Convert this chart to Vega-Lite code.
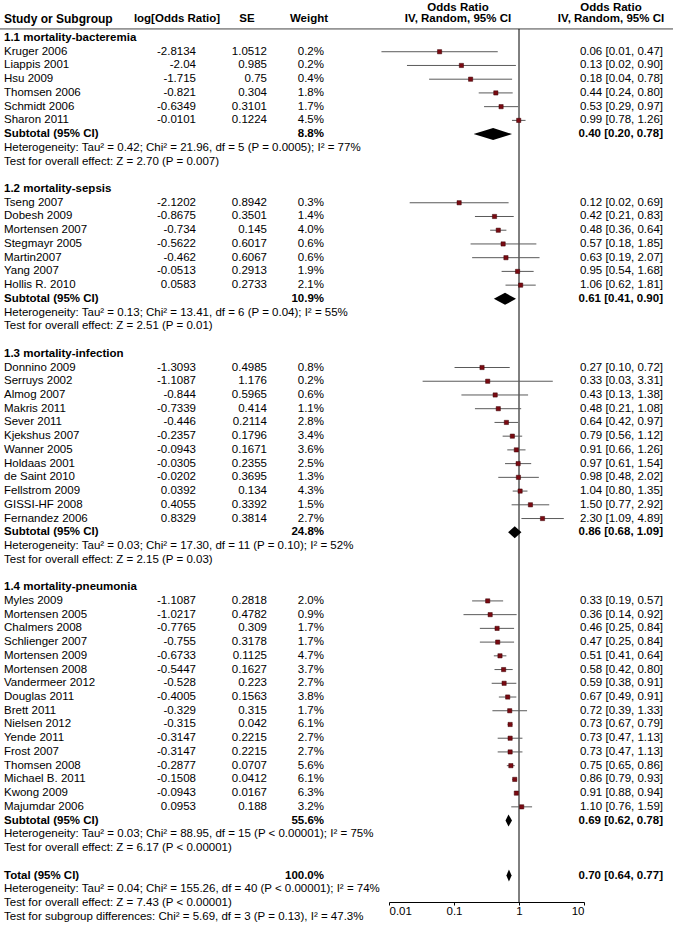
{
  "$schema": "https://vega.github.io/schema/vega-lite/v6.json",
  "width": 673,
  "height": 902,
  "padding": {"left": 0, "top": 0, "right": 0, "bottom": 27},
  "autosize": {"type": "none"},
  "background": "white",
  "config": {
    "view": {"stroke": null},
    "text": {"font": "Liberation Sans", "fontSize": 11.5, "color": "black"}
  },
  "datasets": {
    "refline": [{"ref": 1}],
    "rows": [
      {"row": -2.2, "type": "colhead", "label": "", "logor": "", "se": "", "weight": "", "fp": "Odds Ratio", "ci": "Odds Ratio"},
      {"row": -1.35, "type": "colhead", "label": "Study or Subgroup", "logor": "log[Odds Ratio]", "se": "SE", "weight": "Weight", "fp": "IV, Random, 95% CI", "ci": "IV, Random, 95% CI"},
      {"row": 0, "type": "header", "label": "1.1 mortality-bacteremia"},
      {"row": 1, "type": "study", "label": "Kruger 2006", "logor": "-2.8134", "se": "1.0512", "weight": "0.2%", "ci": "0.06 [0.01, 0.47]", "est": 0.060, "lo": 0.00765, "hi": 0.471},
      {"row": 2, "type": "study", "label": "Liappis 2001", "logor": "-2.04", "se": "0.985", "weight": "0.2%", "ci": "0.13 [0.02, 0.90]", "est": 0.130, "lo": 0.0189, "hi": 0.896},
      {"row": 3, "type": "study", "label": "Hsu 2009", "logor": "-1.715", "se": "0.75", "weight": "0.4%", "ci": "0.18 [0.04, 0.78]", "est": 0.180, "lo": 0.0414, "hi": 0.783},
      {"row": 4, "type": "study", "label": "Thomsen 2006", "logor": "-0.821", "se": "0.304", "weight": "1.8%", "ci": "0.44 [0.24, 0.80]", "est": 0.44, "lo": 0.24, "hi": 0.80},
      {"row": 5, "type": "study", "label": "Schmidt 2006", "logor": "-0.6349", "se": "0.3101", "weight": "1.7%", "ci": "0.53 [0.29, 0.97]", "est": 0.53, "lo": 0.29, "hi": 0.97},
      {"row": 6, "type": "study", "label": "Sharon 2011", "logor": "-0.0101", "se": "0.1224", "weight": "4.5%", "ci": "0.99 [0.78, 1.26]", "est": 0.99, "lo": 0.78, "hi": 1.26},
      {"row": 7, "type": "subtotal", "label": "Subtotal (95% CI)", "weight": "8.8%", "ci": "0.40 [0.20, 0.78]", "est": 0.40, "lo": 0.20, "hi": 0.78},
      {"row": 8, "type": "note", "label": "Heterogeneity: Tau² = 0.42; Chi² = 21.96, df = 5 (P = 0.0005); I² = 77%"},
      {"row": 9, "type": "note", "label": "Test for overall effect: Z = 2.70 (P = 0.007)"},
      {"row": 11, "type": "header", "label": "1.2 mortality-sepsis"},
      {"row": 12, "type": "study", "label": "Tseng 2007", "logor": "-2.1202", "se": "0.8942", "weight": "0.3%", "ci": "0.12 [0.02, 0.69]", "est": 0.120, "lo": 0.0208, "hi": 0.692},
      {"row": 13, "type": "study", "label": "Dobesh 2009", "logor": "-0.8675", "se": "0.3501", "weight": "1.4%", "ci": "0.42 [0.21, 0.83]", "est": 0.42, "lo": 0.21, "hi": 0.83},
      {"row": 14, "type": "study", "label": "Mortensen 2007", "logor": "-0.734", "se": "0.145", "weight": "4.0%", "ci": "0.48 [0.36, 0.64]", "est": 0.48, "lo": 0.36, "hi": 0.64},
      {"row": 15, "type": "study", "label": "Stegmayr 2005", "logor": "-0.5622", "se": "0.6017", "weight": "0.6%", "ci": "0.57 [0.18, 1.85]", "est": 0.57, "lo": 0.18, "hi": 1.85},
      {"row": 16, "type": "study", "label": "Martin2007", "logor": "-0.462", "se": "0.6067", "weight": "0.6%", "ci": "0.63 [0.19, 2.07]", "est": 0.63, "lo": 0.19, "hi": 2.07},
      {"row": 17, "type": "study", "label": "Yang 2007", "logor": "-0.0513", "se": "0.2913", "weight": "1.9%", "ci": "0.95 [0.54, 1.68]", "est": 0.95, "lo": 0.54, "hi": 1.68},
      {"row": 18, "type": "study", "label": "Hollis R. 2010", "logor": "0.0583", "se": "0.2733", "weight": "2.1%", "ci": "1.06 [0.62, 1.81]", "est": 1.06, "lo": 0.62, "hi": 1.81},
      {"row": 19, "type": "subtotal", "label": "Subtotal (95% CI)", "weight": "10.9%", "ci": "0.61 [0.41, 0.90]", "est": 0.61, "lo": 0.41, "hi": 0.90},
      {"row": 20, "type": "note", "label": "Heterogeneity: Tau² = 0.13; Chi² = 13.41, df = 6 (P = 0.04); I² = 55%"},
      {"row": 21, "type": "note", "label": "Test for overall effect: Z = 2.51 (P = 0.01)"},
      {"row": 23, "type": "header", "label": "1.3 mortality-infection"},
      {"row": 24, "type": "study", "label": "Donnino 2009", "logor": "-1.3093", "se": "0.4985", "weight": "0.8%", "ci": "0.27 [0.10, 0.72]", "est": 0.27, "lo": 0.102, "hi": 0.72},
      {"row": 25, "type": "study", "label": "Serruys 2002", "logor": "-1.1087", "se": "1.176", "weight": "0.2%", "ci": "0.33 [0.03, 3.31]", "est": 0.33, "lo": 0.0329, "hi": 3.31},
      {"row": 26, "type": "study", "label": "Almog 2007", "logor": "-0.844", "se": "0.5965", "weight": "0.6%", "ci": "0.43 [0.13, 1.38]", "est": 0.43, "lo": 0.13, "hi": 1.38},
      {"row": 27, "type": "study", "label": "Makris 2011", "logor": "-0.7339", "se": "0.414", "weight": "1.1%", "ci": "0.48 [0.21, 1.08]", "est": 0.48, "lo": 0.21, "hi": 1.08},
      {"row": 28, "type": "study", "label": "Sever 2011", "logor": "-0.446", "se": "0.2114", "weight": "2.8%", "ci": "0.64 [0.42, 0.97]", "est": 0.64, "lo": 0.42, "hi": 0.97},
      {"row": 29, "type": "study", "label": "Kjekshus 2007", "logor": "-0.2357", "se": "0.1796", "weight": "3.4%", "ci": "0.79 [0.56, 1.12]", "est": 0.79, "lo": 0.56, "hi": 1.12},
      {"row": 30, "type": "study", "label": "Wanner 2005", "logor": "-0.0943", "se": "0.1671", "weight": "3.6%", "ci": "0.91 [0.66, 1.26]", "est": 0.91, "lo": 0.66, "hi": 1.26},
      {"row": 31, "type": "study", "label": "Holdaas 2001", "logor": "-0.0305", "se": "0.2355", "weight": "2.5%", "ci": "0.97 [0.61, 1.54]", "est": 0.97, "lo": 0.61, "hi": 1.54},
      {"row": 32, "type": "study", "label": "de Saint 2010", "logor": "-0.0202", "se": "0.3695", "weight": "1.3%", "ci": "0.98 [0.48, 2.02]", "est": 0.98, "lo": 0.48, "hi": 2.02},
      {"row": 33, "type": "study", "label": "Fellstrom 2009", "logor": "0.0392", "se": "0.134", "weight": "4.3%", "ci": "1.04 [0.80, 1.35]", "est": 1.04, "lo": 0.80, "hi": 1.35},
      {"row": 34, "type": "study", "label": "GISSI-HF 2008", "logor": "0.4055", "se": "0.3392", "weight": "1.5%", "ci": "1.50 [0.77, 2.92]", "est": 1.50, "lo": 0.77, "hi": 2.92},
      {"row": 35, "type": "study", "label": "Fernandez 2006", "logor": "0.8329", "se": "0.3814", "weight": "2.7%", "ci": "2.30 [1.09, 4.89]", "est": 2.30, "lo": 1.09, "hi": 4.89},
      {"row": 36, "type": "subtotal", "label": "Subtotal (95% CI)", "weight": "24.8%", "ci": "0.86 [0.68, 1.09]", "est": 0.86, "lo": 0.68, "hi": 1.09},
      {"row": 37, "type": "note", "label": "Heterogeneity: Tau² = 0.03; Chi² = 17.30, df = 11 (P = 0.10); I² = 52%"},
      {"row": 38, "type": "note", "label": "Test for overall effect: Z = 2.15 (P = 0.03)"},
      {"row": 40, "type": "header", "label": "1.4 mortality-pneumonia"},
      {"row": 41, "type": "study", "label": "Myles 2009", "logor": "-1.1087", "se": "0.2818", "weight": "2.0%", "ci": "0.33 [0.19, 0.57]", "est": 0.33, "lo": 0.19, "hi": 0.57},
      {"row": 42, "type": "study", "label": "Mortensen 2005", "logor": "-1.0217", "se": "0.4782", "weight": "0.9%", "ci": "0.36 [0.14, 0.92]", "est": 0.36, "lo": 0.14, "hi": 0.92},
      {"row": 43, "type": "study", "label": "Chalmers 2008", "logor": "-0.7765", "se": "0.309", "weight": "1.7%", "ci": "0.46 [0.25, 0.84]", "est": 0.46, "lo": 0.25, "hi": 0.84},
      {"row": 44, "type": "study", "label": "Schlienger 2007", "logor": "-0.755", "se": "0.3178", "weight": "1.7%", "ci": "0.47 [0.25, 0.84]", "est": 0.47, "lo": 0.25, "hi": 0.84},
      {"row": 45, "type": "study", "label": "Mortensen 2009", "logor": "-0.6733", "se": "0.1125", "weight": "4.7%", "ci": "0.51 [0.41, 0.64]", "est": 0.51, "lo": 0.41, "hi": 0.64},
      {"row": 46, "type": "study", "label": "Mortensen 2008", "logor": "-0.5447", "se": "0.1627", "weight": "3.7%", "ci": "0.58 [0.42, 0.80]", "est": 0.58, "lo": 0.42, "hi": 0.80},
      {"row": 47, "type": "study", "label": "Vandermeer 2012", "logor": "-0.528", "se": "0.223", "weight": "2.7%", "ci": "0.59 [0.38, 0.91]", "est": 0.59, "lo": 0.38, "hi": 0.91},
      {"row": 48, "type": "study", "label": "Douglas 2011", "logor": "-0.4005", "se": "0.1563", "weight": "3.8%", "ci": "0.67 [0.49, 0.91]", "est": 0.67, "lo": 0.49, "hi": 0.91},
      {"row": 49, "type": "study", "label": "Brett 2011", "logor": "-0.329", "se": "0.315", "weight": "1.7%", "ci": "0.72 [0.39, 1.33]", "est": 0.72, "lo": 0.39, "hi": 1.33},
      {"row": 50, "type": "study", "label": "Nielsen 2012", "logor": "-0.315", "se": "0.042", "weight": "6.1%", "ci": "0.73 [0.67, 0.79]", "est": 0.73, "lo": 0.67, "hi": 0.79},
      {"row": 51, "type": "study", "label": "Yende 2011", "logor": "-0.3147", "se": "0.2215", "weight": "2.7%", "ci": "0.73 [0.47, 1.13]", "est": 0.73, "lo": 0.47, "hi": 1.13},
      {"row": 52, "type": "study", "label": "Frost 2007", "logor": "-0.3147", "se": "0.2215", "weight": "2.7%", "ci": "0.73 [0.47, 1.13]", "est": 0.73, "lo": 0.47, "hi": 1.13},
      {"row": 53, "type": "study", "label": "Thomsen 2008", "logor": "-0.2877", "se": "0.0707", "weight": "5.6%", "ci": "0.75 [0.65, 0.86]", "est": 0.75, "lo": 0.65, "hi": 0.86},
      {"row": 54, "type": "study", "label": "Michael B. 2011", "logor": "-0.1508", "se": "0.0412", "weight": "6.1%", "ci": "0.86 [0.79, 0.93]", "est": 0.86, "lo": 0.79, "hi": 0.93},
      {"row": 55, "type": "study", "label": "Kwong 2009", "logor": "-0.0943", "se": "0.0167", "weight": "6.3%", "ci": "0.91 [0.88, 0.94]", "est": 0.91, "lo": 0.88, "hi": 0.94},
      {"row": 56, "type": "study", "label": "Majumdar 2006", "logor": "0.0953", "se": "0.188", "weight": "3.2%", "ci": "1.10 [0.76, 1.59]", "est": 1.10, "lo": 0.76, "hi": 1.59},
      {"row": 57, "type": "subtotal", "label": "Subtotal (95% CI)", "weight": "55.6%", "ci": "0.69 [0.62, 0.78]", "est": 0.69, "lo": 0.62, "hi": 0.78},
      {"row": 58, "type": "note", "label": "Heterogeneity: Tau² = 0.03; Chi² = 88.95, df = 15 (P < 0.00001); I² = 75%"},
      {"row": 59, "type": "note", "label": "Test for overall effect: Z = 6.17 (P < 0.00001)"},
      {"row": 61, "type": "total", "label": "Total (95% CI)", "weight": "100.0%", "ci": "0.70 [0.64, 0.77]", "est": 0.70, "lo": 0.64, "hi": 0.77},
      {"row": 62, "type": "note", "label": "Heterogeneity: Tau² = 0.04; Chi² = 155.26, df = 40 (P < 0.00001); I² = 74%"},
      {"row": 63, "type": "note", "label": "Test for overall effect: Z = 7.43 (P < 0.00001)"},
      {"row": 64, "type": "note", "label": "Test for subgroup differences: Chi² = 5.69, df = 3 (P = 0.13), I² = 47.3%"}
    ]
  },
  "data": {"name": "rows"},
  "layer": [
    {
      "data": {"name": "refline"},
      "mark": {"type": "rule", "color": "#444444", "strokeWidth": 1},
      "encoding": {
        "y": {"datum": -0.66, "type": "quantitative", "scale": {"domain": [-2.768, 62.93], "reverse": true, "nice": false, "zero": false}, "axis": null},
        "x": {"value": 0},
        "x2": {"value": 673}
      }
    },
    {
      "data": {"name": "refline"},
      "mark": {"type": "rule", "color": "black", "strokeWidth": 1},
      "encoding": {
        "x": {"field": "ref", "type": "quantitative", "scale": {"type": "log", "domain": [0.01, 10], "range": [389, 584], "nice": false}, "axis": {"title": null, "values": [0.01, 0.1, 1, 10], "format": "~g", "grid": false, "tickSize": 3, "labelPadding": 0, "domainColor": "black", "tickColor": "black", "labelColor": "black", "labelFontSize": 11.5, "labelFont": "Liberation Sans"}},
        "y": {"datum": -0.66, "type": "quantitative", "scale": {"domain": [-2.768, 62.93], "reverse": true, "nice": false, "zero": false}, "axis": null},
        "y2": {"datum": 62.93}
      }
    },
    {
      "transform": [{"filter": "datum.type == 'study'"}],
      "mark": {"type": "rule", "color": "#5a5a5a", "strokeWidth": 1},
      "encoding": {
        "x": {"field": "lo", "type": "quantitative", "scale": {"type": "log", "domain": [0.01, 10], "range": [389, 584], "nice": false}, "axis": {"title": null, "values": [0.01, 0.1, 1, 10], "format": "~g", "grid": false, "tickSize": 3, "labelPadding": 0, "domainColor": "black", "tickColor": "black", "labelColor": "black", "labelFontSize": 11.5, "labelFont": "Liberation Sans"}},
        "x2": {"field": "hi"},
        "y": {"field": "row", "type": "quantitative", "scale": {"domain": [-2.768, 62.93], "reverse": true, "nice": false, "zero": false}, "axis": null}
      }
    },
    {
      "transform": [{"filter": "datum.type == 'study'"}],
      "mark": {"type": "square", "size": 18, "filled": true, "color": "#7a0a12", "opacity": 1, "stroke": "#3a0005", "strokeWidth": 0.5},
      "encoding": {
        "x": {"field": "est", "type": "quantitative", "scale": {"type": "log", "domain": [0.01, 10], "range": [389, 584], "nice": false}, "axis": {"title": null, "values": [0.01, 0.1, 1, 10], "format": "~g", "grid": false, "tickSize": 3, "labelPadding": 0, "domainColor": "black", "tickColor": "black", "labelColor": "black", "labelFontSize": 11.5, "labelFont": "Liberation Sans"}},
        "y": {"field": "row", "type": "quantitative", "scale": {"domain": [-2.768, 62.93], "reverse": true, "nice": false, "zero": false}, "axis": null}
      }
    },
    {
      "transform": [
        {"filter": "datum.type == 'subtotal' || datum.type == 'total'"},
        {"fold": ["lo", "est", "hi"], "as": ["k", "v"]}
      ],
      "mark": {"type": "area", "orient": "vertical", "color": "black", "opacity": 1, "yOffset": {"expr": "datum.k == 'est' ? -6 : 0"}, "y2Offset": {"expr": "datum.k == 'est' ? 6 : 0"}},
      "encoding": {
        "x": {"field": "v", "type": "quantitative", "scale": {"type": "log", "domain": [0.01, 10], "range": [389, 584], "nice": false}, "axis": {"title": null, "values": [0.01, 0.1, 1, 10], "format": "~g", "grid": false, "tickSize": 3, "labelPadding": 0, "domainColor": "black", "tickColor": "black", "labelColor": "black", "labelFontSize": 11.5, "labelFont": "Liberation Sans"}},
        "y": {"field": "row", "type": "quantitative", "scale": {"domain": [-2.768, 62.93], "reverse": true, "nice": false, "zero": false}, "axis": null},
        "y2": {"field": "row"},
        "detail": {"field": "row", "type": "nominal"}
      }
    },
    {
      "transform": [{"filter": "datum.type == 'study' || datum.type == 'note'"}],
      "mark": {"type": "text", "align": "left"},
      "encoding": {"x": {"value": 4}, "y": {"field": "row", "type": "quantitative"}, "text": {"field": "label"}}
    },
    {
      "transform": [{"filter": "datum.type == 'header' || datum.type == 'subtotal' || datum.type == 'total'"}],
      "mark": {"type": "text", "align": "left", "fontWeight": "bold"},
      "encoding": {"x": {"value": 4}, "y": {"field": "row", "type": "quantitative"}, "text": {"field": "label"}}
    },
    {
      "transform": [{"filter": "datum.type == 'study'"}],
      "mark": {"type": "text", "align": "right"},
      "encoding": {"x": {"value": 196}, "y": {"field": "row", "type": "quantitative"}, "text": {"field": "logor"}}
    },
    {
      "transform": [{"filter": "datum.type == 'study'"}],
      "mark": {"type": "text", "align": "right"},
      "encoding": {"x": {"value": 267}, "y": {"field": "row", "type": "quantitative"}, "text": {"field": "se"}}
    },
    {
      "transform": [{"filter": "datum.type == 'study'"}],
      "mark": {"type": "text", "align": "right"},
      "encoding": {"x": {"value": 324}, "y": {"field": "row", "type": "quantitative"}, "text": {"field": "weight"}}
    },
    {
      "transform": [{"filter": "datum.type == 'subtotal' || datum.type == 'total'"}],
      "mark": {"type": "text", "align": "right", "fontWeight": "bold"},
      "encoding": {"x": {"value": 324}, "y": {"field": "row", "type": "quantitative"}, "text": {"field": "weight"}}
    },
    {
      "transform": [{"filter": "datum.type == 'study'"}],
      "mark": {"type": "text", "align": "right"},
      "encoding": {"x": {"value": 663}, "y": {"field": "row", "type": "quantitative"}, "text": {"field": "ci"}}
    },
    {
      "transform": [{"filter": "datum.type == 'subtotal' || datum.type == 'total'"}],
      "mark": {"type": "text", "align": "right", "fontWeight": "bold"},
      "encoding": {"x": {"value": 663}, "y": {"field": "row", "type": "quantitative"}, "text": {"field": "ci"}}
    },
    {
      "transform": [{"filter": "datum.type == 'colhead'"}],
      "mark": {"type": "text", "align": "left", "fontWeight": "bold", "fontSize": 12}, 
      "encoding": {"x": {"value": 4}, "y": {"field": "row", "type": "quantitative"}, "text": {"field": "label"}}
    },
    {
      "transform": [{"filter": "datum.type == 'colhead'"}],
      "mark": {"type": "text", "align": "center", "fontWeight": "bold"},
      "encoding": {"x": {"value": 177}, "y": {"field": "row", "type": "quantitative"}, "text": {"field": "logor"}}
    },
    {
      "transform": [{"filter": "datum.type == 'colhead'"}],
      "mark": {"type": "text", "align": "center", "fontWeight": "bold"},
      "encoding": {"x": {"value": 247}, "y": {"field": "row", "type": "quantitative"}, "text": {"field": "se"}}
    },
    {
      "transform": [{"filter": "datum.type == 'colhead'"}],
      "mark": {"type": "text", "align": "center", "fontWeight": "bold"},
      "encoding": {"x": {"value": 309}, "y": {"field": "row", "type": "quantitative"}, "text": {"field": "weight"}}
    },
    {
      "transform": [{"filter": "datum.type == 'colhead'"}],
      "mark": {"type": "text", "align": "center", "fontWeight": "bold"},
      "encoding": {"x": {"value": 458}, "y": {"field": "row", "type": "quantitative"}, "text": {"field": "fp"}}
    },
    {
      "transform": [{"filter": "datum.type == 'colhead'"}],
      "mark": {"type": "text", "align": "center", "fontWeight": "bold"},
      "encoding": {"x": {"value": 611}, "y": {"field": "row", "type": "quantitative"}, "text": {"field": "ci"}}
    }
  ]
}
